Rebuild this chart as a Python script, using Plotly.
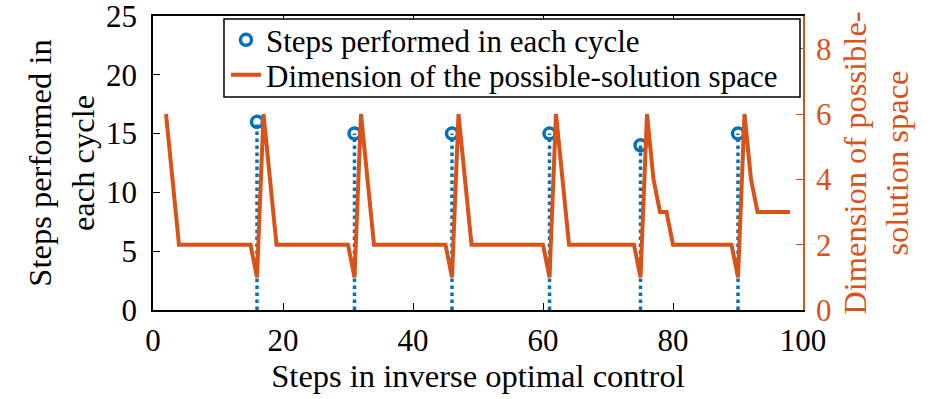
import plotly.graph_objects as go

# Stem data: cycle boundaries and steps performed in each cycle
stem_x = [16, 31, 46, 61, 75, 90]
stem_y = [16, 15, 15, 15, 14, 15]

# Dimension of the possible-solution space (vertices of the polyline)
dim_x = [2, 4, 15, 16, 17, 19, 30, 31, 32, 34, 45, 46, 47, 49, 60, 61, 62, 64,
         74, 75, 76, 77, 78, 79, 80, 89, 90, 91, 92, 93, 98]
dim_y = [6, 2, 2, 1, 6, 2, 2, 1, 6, 2, 2, 1, 6, 2, 2, 1, 6, 2,
         2, 1, 6, 4, 3, 3, 2, 2, 1, 6, 4, 3, 3]

x_ticks = [0, 20, 40, 60, 80, 100]
y1_ticks = [0, 5, 10, 15, 20, 25]
y2_ticks = [0, 2, 4, 6, 8]

BLUE = "#0072BD"
ORANGE = "#D95319"
FONT = "Liberation Serif"
FS = 31      # tick labels / legend
FT = 32.5    # axis titles

# build stem segments from the data
sx, sy = [], []
for xv, yv in zip(stem_x, stem_y):
    sx += [xv, xv, None]
    sy += [0, yv, None]

fig = go.Figure()
fig.add_trace(go.Scatter(x=sx, y=sy, mode="lines", showlegend=False,
                         line=dict(color=BLUE, width=3.5, dash="dot"),
                         hoverinfo="skip", yaxis="y"))
fig.add_trace(go.Scatter(x=stem_x, y=stem_y, mode="markers",
                         name="Steps performed in each cycle", legend="legend",
                         marker=dict(symbol="circle-open", size=11,
                                     color=BLUE, line=dict(width=3.5, color=BLUE)),
                         yaxis="y"))
fig.add_trace(go.Scatter(x=dim_x, y=dim_y, mode="lines",
                         name="Dimension of the possible-solution space",
                         legend="legend2",
                         line=dict(color=ORANGE, width=4), yaxis="y2"))

leg_common = dict(xanchor="left", yanchor="middle", bgcolor="rgba(0,0,0,0)",
                  borderwidth=0, font=dict(size=FS), itemwidth=30)

fig.update_layout(
    width=945, height=399,
    margin=dict(l=153, r=142, t=16, b=89, autoexpand=False),
    paper_bgcolor="white", plot_bgcolor="white",
    font=dict(family=FONT, size=FS, color="black"),
    xaxis=dict(range=[0, 100], tickvals=x_ticks, ticks="inside", ticklen=7,
               tickwidth=1, tickcolor="black", automargin=False,
               ticklabelstandoff=2,
               showline=True, linecolor="black", linewidth=1.5, mirror="ticks",
               showgrid=False, zeroline=False,
               title=dict(text="Steps in inverse optimal control", standoff=4,
                          font=dict(size=FT)),
               tickfont=dict(size=FS)),
    yaxis=dict(range=[0, 25], tickvals=y1_ticks, ticks="inside", ticklen=7,
               tickwidth=1, tickcolor="black", automargin=False,
               ticklabelstandoff=8, ticklabeloverflow="allow",
               showline=True, linecolor="black", linewidth=1.5,
               showgrid=False, zeroline=False,
               title=dict(text="Steps performed in<br>each cycle", standoff=2,
                          font=dict(size=FT)),
               tickfont=dict(size=FS)),
    yaxis2=dict(range=[0, 9], tickvals=y2_ticks, ticks="inside", ticklen=7,
                tickwidth=1, tickcolor=ORANGE, overlaying="y", side="right",
                automargin=False, ticklabelstandoff=5, ticklabeloverflow="allow",
                showline=True, linecolor=ORANGE, linewidth=1.5,
                showgrid=False, zeroline=False,
                title=dict(text="Dimension of possible-<br>solution space",
                           standoff=12, font=dict(size=FT, color=ORANGE)),
                tickfont=dict(size=FS, color=ORANGE)),
    legend=dict(x=0.1123, y=0.918, **leg_common),
    legend2=dict(x=0.1123, y=0.799, **leg_common),
    shapes=[dict(type="rect", xref="paper", yref="paper", layer="above",
                 x0=0.1092, x1=0.9954, y0=0.7245, y1=0.9898,
                 fillcolor="white", line=dict(color="black", width=1.5))],
)

fig.write_html("out.html", config={"displayModeBar": False},
               post_script="document.body.style.margin='0';"
                           "document.body.style.overflow='hidden';")
